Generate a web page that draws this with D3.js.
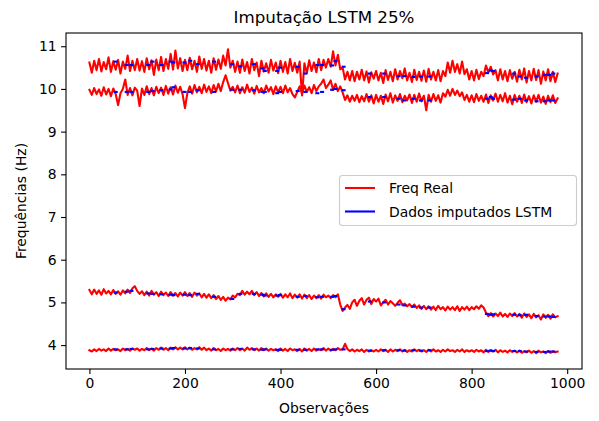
<!DOCTYPE html>
<html><head><meta charset="utf-8">
<script src="https://cdn.jsdelivr.net/npm/d3@7"></script>
<style>body{margin:0;background:#fff}svg{display:block}text{font-family:"DejaVu Sans",sans-serif;fill:#000}</style>
</head><body><svg id="c" width="599" height="421"></svg>
<script>
// x index step between samples of the red series
const step = 5;
const xTicks = [0,200,400,600,800,1000];
const yTicks = [4,5,6,7,8,9,10,11];
const seriesNames = ["Freq Real","Dados imputados LSTM"];

const realA = [
10.62,10.38,10.66,10.44,10.70,10.41,10.63,10.46,10.74,10.40,10.65,10.45,10.68,10.36,10.64,10.47,10.78,10.42,10.66,10.44,
10.70,10.43,10.65,10.40,10.72,10.46,10.67,10.33,10.69,10.44,10.75,10.42,10.70,10.47,10.82,10.45,10.90,10.48,10.72,10.42,
10.68,10.44,10.73,10.46,10.66,10.40,10.76,10.47,10.70,10.43,10.66,10.38,10.72,10.45,10.69,10.47,10.78,10.55,10.93,10.50,
10.66,10.40,10.64,10.38,10.69,10.42,10.63,10.36,10.70,10.44,10.62,10.30,10.66,10.41,10.60,10.38,10.68,10.43,10.62,10.37,
10.66,10.40,10.63,10.36,10.70,10.42,10.61,10.38,10.64,9.85,10.60,10.37,10.67,10.42,10.62,10.39,10.70,10.44,10.68,10.50,
10.70,10.52,10.88,10.55,10.80,10.46,10.50,10.22,10.40,10.20,10.42,10.18,10.40,10.22,10.45,10.20,10.41,10.15,10.39,10.24,
10.42,10.20,10.38,10.14,10.44,10.21,10.40,10.18,10.46,10.22,10.42,10.25,10.48,10.20,10.38,10.16,10.45,10.21,10.40,10.19,
10.43,10.17,10.47,10.22,10.40,10.20,10.44,10.18,10.42,10.30,10.62,10.38,10.66,10.40,10.58,10.36,10.64,10.35,10.46,10.22,
10.42,10.20,10.45,10.23,10.40,10.30,10.55,10.38,10.52,10.34,10.44,10.20,10.46,10.22,10.42,10.18,10.44,10.24,10.40,10.17,
10.45,10.22,10.48,10.15,10.42,10.20,10.47,10.21,10.44,10.12,10.41,10.20,10.46,10.18,10.40,10.16,10.36];

const realB = [
9.98,9.86,10.02,9.88,9.99,9.84,10.04,9.87,10.00,9.83,10.01,9.88,9.62,9.90,10.00,10.22,9.86,10.02,9.85,10.03,
9.96,9.60,10.01,9.86,10.06,9.88,10.02,9.85,10.05,9.90,10.03,9.86,10.07,9.89,10.04,9.87,10.08,9.91,10.05,9.88,
9.55,9.90,10.06,9.89,10.09,9.92,10.05,9.90,10.10,9.93,10.06,9.90,10.09,9.94,10.12,9.95,10.16,10.32,10.14,9.96,
10.05,9.92,10.08,9.90,10.04,9.91,10.10,9.93,10.03,9.89,10.07,9.92,10.02,9.90,10.08,9.94,10.04,9.88,10.06,9.92,
10.05,9.90,10.08,9.92,10.02,9.88,9.80,9.93,10.06,9.89,10.08,9.93,10.04,9.90,10.09,9.95,10.06,10.12,10.22,10.02,
10.10,10.20,9.98,10.12,9.95,10.06,9.92,9.74,9.85,9.70,9.84,9.72,9.86,9.69,9.83,9.71,9.88,9.70,9.85,9.66,
9.86,9.70,9.84,9.65,9.87,9.71,9.90,9.68,9.85,9.72,9.88,9.69,9.84,9.73,9.87,9.67,9.86,9.70,9.89,9.71,
9.84,9.50,9.86,9.70,9.88,9.72,9.85,9.68,9.90,9.82,9.98,9.84,10.00,9.86,9.96,9.83,9.92,9.74,9.86,9.70,
9.85,9.69,9.88,9.72,9.84,9.70,9.87,9.67,9.85,9.73,9.89,9.70,9.86,9.71,9.90,9.68,9.84,9.64,9.86,9.70,
9.84,9.67,9.87,9.69,9.83,9.66,9.85,9.70,9.86,9.68,9.82,9.65,9.84,9.69,9.85,9.67,9.78];

const realC = [
5.29,5.19,5.30,5.20,5.28,5.18,5.31,5.21,5.27,5.19,5.29,5.20,5.26,5.18,5.28,5.21,5.30,5.22,5.33,5.38,
5.27,5.20,5.26,5.17,5.25,5.16,5.27,5.18,5.24,5.15,5.25,5.17,5.23,5.15,5.24,5.16,5.22,5.14,5.23,5.16,
5.24,5.15,5.22,5.13,5.23,5.16,5.21,5.12,5.20,5.11,5.19,5.10,5.17,5.08,5.15,5.06,5.13,5.04,5.11,5.07,
5.16,5.12,5.20,5.17,5.27,5.18,5.25,5.19,5.27,5.17,5.24,5.15,5.22,5.14,5.21,5.13,5.20,5.12,5.19,5.13,
5.20,5.11,5.19,5.12,5.21,5.10,5.18,5.11,5.19,5.09,5.18,5.10,5.17,5.08,5.16,5.10,5.17,5.09,5.18,5.12,
5.16,5.10,5.17,5.12,5.19,4.95,4.80,4.88,4.94,4.85,5.00,5.06,4.92,5.04,5.10,4.95,5.06,5.11,4.96,5.08,
5.02,5.09,4.93,5.00,5.06,4.95,5.03,4.98,4.92,4.99,5.05,4.94,4.97,4.91,4.96,4.89,4.95,4.87,4.93,4.85,
4.92,4.84,4.91,4.83,4.90,4.82,4.92,4.84,4.89,4.81,4.90,4.83,4.89,4.82,4.91,4.80,4.89,4.83,4.90,4.82,
4.89,4.84,4.91,4.85,4.93,4.88,4.76,4.68,4.75,4.67,4.74,4.68,4.76,4.67,4.73,4.66,4.74,4.68,4.75,4.67,
4.73,4.64,4.74,4.66,4.72,4.63,4.73,4.65,4.70,4.60,4.72,4.64,4.71,4.62,4.72,4.65,4.68];

const realD = [
3.88,3.85,3.90,3.86,3.91,3.87,3.90,3.86,3.92,3.87,3.91,3.88,3.90,3.86,3.92,3.88,3.91,3.87,3.92,3.89,
3.92,3.87,3.91,3.88,3.93,3.88,3.92,3.87,3.93,3.89,3.94,3.89,3.93,3.88,3.94,3.90,3.95,3.90,3.94,3.90,
3.95,3.90,3.94,3.89,3.93,3.90,3.95,3.89,3.94,3.88,3.92,3.87,3.93,3.88,3.91,3.86,3.92,3.88,3.91,3.87,
3.92,3.88,3.93,3.88,3.92,3.87,3.94,3.89,3.93,3.88,3.92,3.87,3.93,3.88,3.92,3.87,3.91,3.88,3.90,3.86,
3.92,3.87,3.91,3.86,3.92,3.88,3.90,3.86,3.91,3.85,3.92,3.87,3.91,3.86,3.92,3.87,3.90,3.88,3.93,3.87,
3.92,3.87,3.91,3.88,3.93,3.89,3.90,4.03,3.91,3.86,3.90,3.85,3.89,3.86,3.90,3.84,3.89,3.85,3.88,3.85,
3.89,3.85,3.90,3.86,3.89,3.84,3.90,3.85,3.89,3.86,3.90,3.85,3.89,3.84,3.88,3.85,3.90,3.86,3.89,3.85,
3.88,3.84,3.89,3.85,3.90,3.85,3.88,3.84,3.89,3.85,3.90,3.86,3.88,3.84,3.89,3.85,3.90,3.84,3.88,3.85,
3.88,3.84,3.89,3.85,3.88,3.83,3.89,3.84,3.88,3.85,3.89,3.83,3.88,3.84,3.87,3.83,3.88,3.84,3.87,3.83,
3.87,3.82,3.86,3.83,3.87,3.82,3.86,3.81,3.87,3.83,3.85,3.81,3.86,3.82,3.85,3.83,3.85];

// imputed (missing) positions: start index of each short imputed run, and its length
const imputedIdx = [53,76,86,121,130,149,168,174,197,209,225,259,297,314,342,360,365,391,397,434,450,475,485,506,513,530,585,615,645,657,676,692,710,830,838,843,887,899,912,934,951,960,969];
const imputedLen = 4;
const impA = [10.64,10.56,10.56,10.56,10.64,10.56,10.64,10.62,10.62,10.66,10.58,10.64,10.58,10.53,10.58,10.48,10.42,10.42,10.50,10.52,10.36,10.56,
10.56,10.55,10.65,10.52,10.36,10.36,10.30,10.30,10.28,10.29,10.29,10.37,10.43,10.42,10.36,10.29,10.26,10.29,10.33,10.33,10.36];
const impB = [9.93,9.93,9.93,9.93,9.95,9.97,9.99,10.04,9.93,9.93,9.97,9.93,9.98,9.98,9.97,9.93,9.93,9.90,9.93,9.95,9.93,9.90,
9.93,9.98,10.00,9.97,9.81,9.81,9.77,9.73,9.77,9.73,9.73,9.77,9.81,9.77,9.75,9.77,9.73,9.71,9.71,9.73,9.73];
const impC = [5.23,5.25,5.27,5.21,5.20,5.19,5.18,5.17,5.18,5.17,5.20,5.13,5.08,5.20,5.20,5.18,5.16,5.16,5.17,5.13,5.15,5.12,
5.13,5.13,5.15,4.84,5.02,5.00,4.95,4.93,4.90,4.88,4.88,4.73,4.71,4.72,4.71,4.70,4.71,4.68,4.67,4.67,4.66];
const impD = [3.90,3.90,3.91,3.90,3.91,3.92,3.92,3.93,3.92,3.93,3.92,3.90,3.90,3.91,3.90,3.89,3.90,3.89,3.89,3.89,3.89,3.90,
3.90,3.89,3.90,3.90,3.87,3.88,3.88,3.87,3.88,3.87,3.88,3.86,3.87,3.86,3.86,3.86,3.85,3.84,3.84,3.85,3.85];

const svg = d3.select("#c");
const L = 66, R = 582, T = 33, B = 369;
const x = d3.scaleLinear().domain([-49, 1031]).range([L, R]);
const y = d3.scaleLinear().domain([3.44, 11.31]).range([B, T]);

svg.append("defs").append("clipPath").attr("id","clip")
  .append("rect").attr("x",L).attr("y",T).attr("width",R-L).attr("height",B-T);

const line = d3.line().x(d=>x(d[0])).y(d=>y(d[1]));
const plot = svg.append("g").attr("clip-path","url(#clip)");

[realA, realB, realC, realD].forEach(arr=>{
  plot.append("path").datum(arr.map((v,i)=>[i*step, v]))
    .attr("d", line).attr("fill","none").attr("stroke","#ff0000")
    .attr("stroke-width",2.1).attr("stroke-linejoin","round").attr("stroke-linecap","square");
});
[impA, impB, impC, impD].forEach(arr=>{
  arr.forEach((v,k)=>{
    plot.append("path").datum([[imputedIdx[k], v],[imputedIdx[k]+imputedLen, v]])
      .attr("d", line).attr("fill","none").attr("stroke","#0000ff")
      .attr("stroke-width",2.1).attr("stroke-linecap","square");
  });
});

// axes
const xa = svg.append("g").attr("transform",`translate(0,${B})`)
  .call(d3.axisBottom(x).tickValues(xTicks).tickSize(4.9).tickPadding(4.5).tickFormat(d3.format("d")));
const ya = svg.append("g").attr("transform",`translate(${L},0)`)
  .call(d3.axisLeft(y).tickValues(yTicks).tickSize(4.9).tickPadding(4.5).tickFormat(d3.format("d")));
[xa, ya].forEach(g=>{
  g.select(".domain").remove();
  g.selectAll(".tick line").attr("stroke","#000").attr("stroke-width",1.1);
  g.selectAll(".tick text").attr("font-size","13.9px").attr("font-family","DejaVu Sans").attr("fill","#000");
});
svg.append("rect").attr("x",L).attr("y",T).attr("width",R-L).attr("height",B-T)
  .attr("fill","none").attr("stroke","#000").attr("stroke-width",1.1);

// titles
svg.append("text").attr("x",(L+R)/2).attr("y",23).attr("text-anchor","middle")
  .attr("font-size","16.7px").text("Imputação LSTM 25%");
svg.append("text").attr("x",(L+R)/2).attr("y",413).attr("text-anchor","middle")
  .attr("font-size","13.9px").text("Observações");
svg.append("text").attr("transform",`translate(26,${(T+B)/2}) rotate(-90)`).attr("text-anchor","middle")
  .attr("font-size","13.9px").text("Frequências (Hz)");

// legend
const lg = svg.append("g");
lg.append("rect").attr("x",339.5).attr("y",175.5).attr("width",237).attr("height",50).attr("rx",3)
  .attr("fill","#fff").attr("fill-opacity",0.8).attr("stroke","#cccccc").attr("stroke-width",1.1);
const colors = ["#ff0000","#0000ff"];
seriesNames.forEach((n,i)=>{
  const yy = 188 + i*23.5;
  lg.append("line").attr("x1",345).attr("x2",375).attr("y1",yy).attr("y2",yy)
    .attr("stroke",colors[i]).attr("stroke-width",2.1);
  lg.append("text").attr("x",389).attr("y",yy+5).attr("font-size","13.9px").text(n);
});
</script></body></html>
